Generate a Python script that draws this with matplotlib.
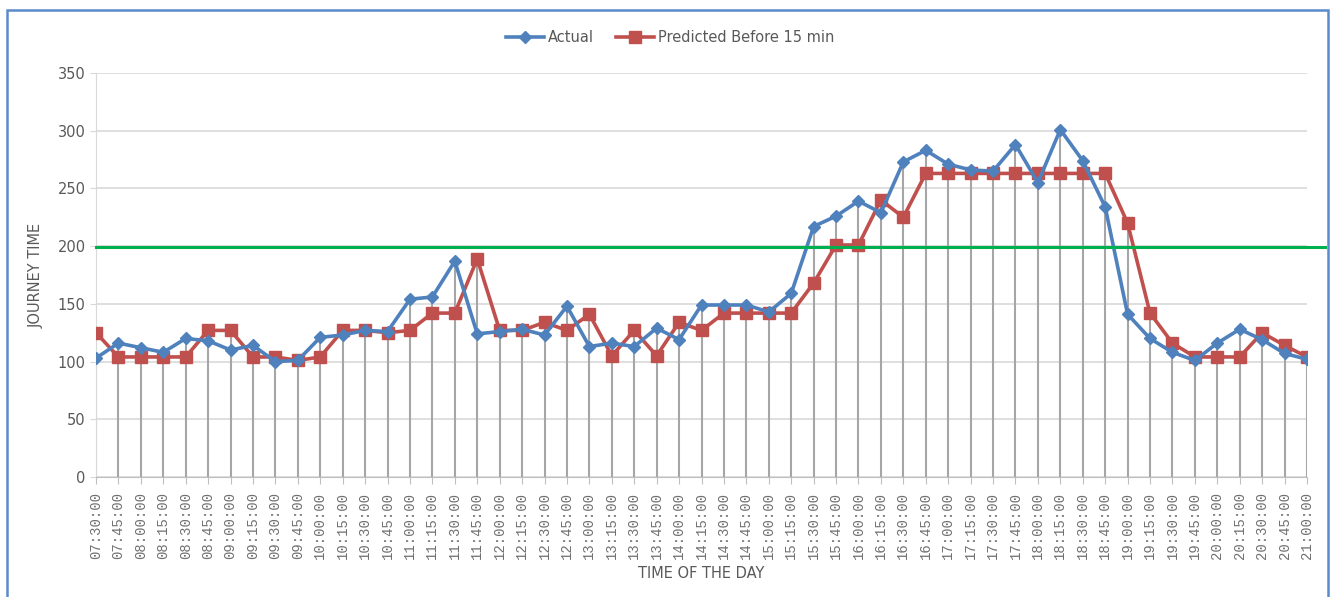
import matplotlib.pyplot as plt
from matplotlib.patches import Rectangle

# time slots, every 15 min from 07:30 to 21:00
times = ['07:30:00', '07:45:00', '08:00:00', '08:15:00', '08:30:00', '08:45:00',
         '09:00:00', '09:15:00', '09:30:00', '09:45:00', '10:00:00', '10:15:00',
         '10:30:00', '10:45:00', '11:00:00', '11:15:00', '11:30:00', '11:45:00',
         '12:00:00', '12:15:00', '12:30:00', '12:45:00', '13:00:00', '13:15:00',
         '13:30:00', '13:45:00', '14:00:00', '14:15:00', '14:30:00', '14:45:00',
         '15:00:00', '15:15:00', '15:30:00', '15:45:00', '16:00:00', '16:15:00',
         '16:30:00', '16:45:00', '17:00:00', '17:15:00', '17:30:00', '17:45:00',
         '18:00:00', '18:15:00', '18:30:00', '18:45:00', '19:00:00', '19:15:00',
         '19:30:00', '19:45:00', '20:00:00', '20:15:00', '20:30:00', '20:45:00',
         '21:00:00']

actual = [103, 116, 112, 108, 120, 118, 110, 114, 100, 101, 121, 123,
          127, 126, 154, 156, 187, 124, 126, 128, 123, 148, 113, 116,
          113, 129, 119, 149, 149, 149, 143, 159, 217, 226, 239, 229,
          273, 283, 271, 266, 265, 288, 255, 301, 274, 234, 141, 120,
          108, 101, 116, 128, 119, 107, 102]

predicted = [125, 104, 104, 104, 104, 127, 127, 104, 104, 101, 104, 127,
             127, 125, 127, 142, 142, 189, 127, 127, 134, 127, 141, 105,
             127, 105, 134, 127, 142, 142, 142, 142, 168, 201, 201, 240,
             225, 263, 263, 263, 263, 263, 263, 263, 263, 263, 220, 142,
             116, 104, 104, 104, 125, 114, 104]

threshold = 199

blue = '#4F81BD'
red = '#C0504D'
green = '#00B050'
grey_txt = '#595959'

fig = plt.figure(figsize=(13.35, 5.97), dpi=100)
ax = fig.add_axes([96 / 1335, 1 - 477 / 597, (1307 - 96) / 1335, (477 - 73) / 597])

x = list(range(len(times)))

# drop lines from the higher of the two series down to the axis
tops = [max(a, p) for a, p in zip(actual, predicted)]
ax.vlines(x, 0, tops, color='#A6A6A6', lw=1.5, zorder=2)

ax.plot(x, actual, color=blue, lw=2.6, marker='D', ms=6.5, label='Actual', zorder=4)
ax.plot(x, predicted, color=red, lw=2.6, marker='s', ms=8.5,
        label='Predicted Before 15 min', zorder=3)

# threshold line runs a bit past the plot area
ax.plot([0, 54.8], [threshold, threshold], color=green, lw=2.2, clip_on=False, zorder=5)

ax.set_xlim(0, 54)
ax.set_ylim(0, 350)
ax.set_yticks(range(0, 351, 50))
ax.yaxis.grid(True, color='#D9D9D9', lw=1.2)
ax.set_axisbelow(True)

ax.set_xticks(x)
ax.set_xticklabels(times, rotation=90, fontsize=10, color='#707070',
                   family='Liberation Mono')
ax.tick_params(axis='y', labelsize=10.5, labelcolor=grey_txt, color='#D9D9D9', length=4)
ax.tick_params(axis='x', color='#BFBFBF', length=5, pad=6)

for side in ['top', 'right']:
    ax.spines[side].set_visible(False)
ax.spines['left'].set_color('#D9D9D9')
ax.spines['bottom'].set_color('#BFBFBF')

ax.set_xlabel('TIME OF THE DAY', fontsize=10.5, color=grey_txt, labelpad=5)
ax.set_ylabel('JOURNEY TIME', fontsize=10.5, color=grey_txt, labelpad=10)

fig.legend(loc='center', bbox_to_anchor=(0.502, 1 - 38 / 597), ncol=2, frameon=False,
           fontsize=10.5, labelcolor=grey_txt, handlelength=2.6, columnspacing=1.5,
           handletextpad=0.3)

# chart border
fig.patches.append(Rectangle((7 / 1335, -0.05), (1328 - 7) / 1335, 1.05 - 10 / 597,
                             transform=fig.transFigure, fill=False,
                             edgecolor='#5B8ACB', lw=1.8))

fig.savefig('out.png', dpi=100)
